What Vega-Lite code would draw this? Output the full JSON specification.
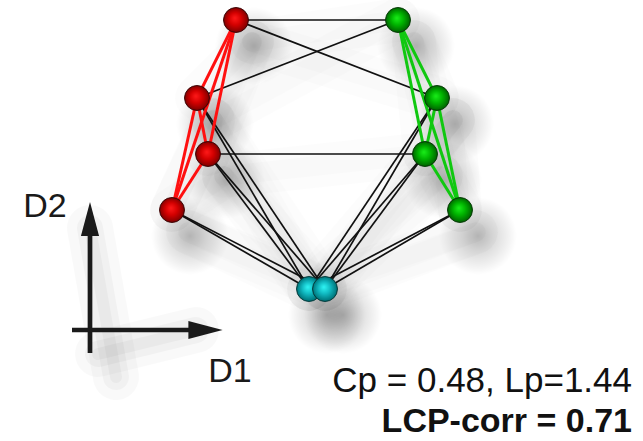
{
  "$schema": "https://vega.github.io/schema/vega-lite/v6.json",
  "width": 643,
  "height": 441,
  "autosize": {"type": "none"},
  "padding": 0,
  "background": "white",
  "config": {"view": {"stroke": null}},
  "datasets": {
    "nodes": [
      {"id": "R1", "group": "red", "x": 236, "y": 20},
      {"id": "R2", "group": "red", "x": 197, "y": 98},
      {"id": "R3", "group": "red", "x": 208, "y": 154},
      {"id": "R4", "group": "red", "x": 172, "y": 210},
      {"id": "G1", "group": "green", "x": 398, "y": 20},
      {"id": "G2", "group": "green", "x": 437, "y": 98},
      {"id": "G3", "group": "green", "x": 425, "y": 154},
      {"id": "G4", "group": "green", "x": 460, "y": 210},
      {"id": "C1", "group": "cyan", "x": 309, "y": 289},
      {"id": "C2", "group": "cyan", "x": 325, "y": 289}
    ],
    "edges": [
      {"s": "R1", "t": "R2", "kind": "red"},
      {"s": "R1", "t": "R3", "kind": "red"},
      {"s": "R1", "t": "R4", "kind": "red"},
      {"s": "R2", "t": "R3", "kind": "red"},
      {"s": "R2", "t": "R4", "kind": "red"},
      {"s": "R3", "t": "R4", "kind": "red"},
      {"s": "G1", "t": "G2", "kind": "green"},
      {"s": "G1", "t": "G3", "kind": "green"},
      {"s": "G1", "t": "G4", "kind": "green"},
      {"s": "G2", "t": "G3", "kind": "green"},
      {"s": "G2", "t": "G4", "kind": "green"},
      {"s": "G3", "t": "G4", "kind": "green"},
      {"s": "R1", "t": "G1", "kind": "black"},
      {"s": "R1", "t": "G2", "kind": "black"},
      {"s": "R2", "t": "G1", "kind": "black"},
      {"s": "R3", "t": "G3", "kind": "black"},
      {"s": "R2", "t": "C1", "kind": "black"},
      {"s": "R2", "t": "C2", "kind": "black"},
      {"s": "R3", "t": "C1", "kind": "black"},
      {"s": "R3", "t": "C2", "kind": "black"},
      {"s": "R4", "t": "C1", "kind": "black"},
      {"s": "R4", "t": "C2", "kind": "black"},
      {"s": "G2", "t": "C1", "kind": "black"},
      {"s": "G2", "t": "C2", "kind": "black"},
      {"s": "G3", "t": "C1", "kind": "black"},
      {"s": "G3", "t": "C2", "kind": "black"},
      {"s": "G4", "t": "C1", "kind": "black"},
      {"s": "G4", "t": "C2", "kind": "black"}
    ],
    "axisArrows": [
      {"dir": "D2", "x": 90, "y": 353, "x2": 90, "y2": 228},
      {"dir": "D1", "x": 72, "y": 330, "x2": 196, "y2": 330}
    ],
    "heads": [
      {"dir": "D2", "x": 90, "y": 219}
    ],
    "headsR": [
      {"dir": "D1", "x": 205.5, "y": 330}
    ],
    "axisLabels": [
      {"text": "D2", "x": 45, "y": 217},
      {"text": "D1", "x": 230, "y": 382}
    ],
    "stats": [
      {"text": "Cp = 0.48, Lp=1.44", "x": 632, "y": 392}
    ],
    "statsBold": [
      {"text": "LCP-corr = 0.71", "x": 632, "y": 432}
    ]
  },
  "layer": [
    {
      "data": {"name": "edges"},
      "transform": [
        {"lookup": "s", "from": {"data": {"name": "nodes"}, "key": "id", "fields": ["x", "y"]}, "as": ["sx", "sy"]},
        {"lookup": "t", "from": {"data": {"name": "nodes"}, "key": "id", "fields": ["x", "y"]}, "as": ["tx", "ty"]}
      ],
      "mark": {"type": "rule", "color": "#000", "opacity": 0.012, "strokeWidth": 44, "strokeCap": "round", "xOffset": 16, "yOffset": 22},
      "encoding": {
        "x": {"field": "sx", "type": "quantitative", "scale": {"domain": [0, 643], "nice": false, "zero": false}, "axis": null},
        "y": {"field": "sy", "type": "quantitative", "scale": {"domain": [0, 441], "nice": false, "zero": false, "reverse": true}, "axis": null},
        "x2": {"field": "tx"},
        "y2": {"field": "ty"}
      }
    },
    {
      "data": {"name": "edges"},
      "transform": [
        {"lookup": "s", "from": {"data": {"name": "nodes"}, "key": "id", "fields": ["x", "y"]}, "as": ["sx", "sy"]},
        {"lookup": "t", "from": {"data": {"name": "nodes"}, "key": "id", "fields": ["x", "y"]}, "as": ["tx", "ty"]}
      ],
      "mark": {"type": "rule", "color": "#000", "opacity": 0.01, "strokeWidth": 20, "strokeCap": "round", "xOffset": 16, "yOffset": 22},
      "encoding": {
        "x": {"field": "sx", "type": "quantitative"},
        "y": {"field": "sy", "type": "quantitative"},
        "x2": {"field": "tx"},
        "y2": {"field": "ty"}
      }
    },
    {
      "data": {"name": "nodes"},
      "mark": {"type": "circle", "opacity": 1, "size": 6000, "xOffset": 18, "yOffset": 26,
        "fill": {"gradient": "radial", "x1": 0.5, "y1": 0.5, "x2": 0.5, "y2": 0.5, "r1": 0, "r2": 0.5,
          "stops": [{"offset": 0, "color": "rgba(0,0,0,0.26)"}, {"offset": 0.4, "color": "rgba(0,0,0,0.14)"}, {"offset": 1, "color": "rgba(0,0,0,0)"}]}},
      "encoding": {
        "x": {"field": "x", "type": "quantitative"},
        "y": {"field": "y", "type": "quantitative"}
      }
    },
    {
      "data": {"name": "axisArrows"},
      "mark": {"type": "rule", "color": "#000", "opacity": 0.022, "strokeWidth": 46, "strokeCap": "round", "xOffset": 26, "yOffset": 24},
      "encoding": {
        "x": {"field": "x", "type": "quantitative"},
        "y": {"field": "y", "type": "quantitative"},
        "x2": {"field": "x2"},
        "y2": {"field": "y2"}
      }
    },
    {
      "data": {"name": "axisArrows"},
      "mark": {"type": "rule", "color": "#000", "opacity": 0.03, "strokeWidth": 26, "strokeCap": "round", "xOffset": 26, "yOffset": 24},
      "encoding": {
        "x": {"field": "x", "type": "quantitative"},
        "y": {"field": "y", "type": "quantitative"},
        "x2": {"field": "x2"},
        "y2": {"field": "y2"}
      }
    },
    {
      "data": {"name": "axisArrows"},
      "mark": {"type": "rule", "color": "#000", "opacity": 0.03, "strokeWidth": 12, "strokeCap": "round", "xOffset": 26, "yOffset": 24},
      "encoding": {
        "x": {"field": "x", "type": "quantitative"},
        "y": {"field": "y", "type": "quantitative"},
        "x2": {"field": "x2"},
        "y2": {"field": "y2"}
      }
    },
    {
      "data": {"name": "axisArrows"},
      "mark": {"type": "rule", "color": "#1a1a1a", "strokeWidth": 4.7},
      "encoding": {
        "x": {"field": "x", "type": "quantitative"},
        "y": {"field": "y", "type": "quantitative"},
        "x2": {"field": "x2"},
        "y2": {"field": "y2"}
      }
    },
    {
      "data": {"name": "heads"},
      "mark": {"type": "point", "shape": "M0,-1L0.53,1L-0.53,1Z", "filled": true, "color": "#1a1a1a", "opacity": 1, "size": 1170, "strokeWidth": 0},
      "encoding": {
        "x": {"field": "x", "type": "quantitative"},
        "y": {"field": "y", "type": "quantitative"}
      }
    },
    {
      "data": {"name": "headsR"},
      "mark": {"type": "point", "shape": "M1,0L-1,0.53L-1,-0.53Z", "filled": true, "color": "#1a1a1a", "opacity": 1, "size": 1170, "strokeWidth": 0},
      "encoding": {
        "x": {"field": "x", "type": "quantitative"},
        "y": {"field": "y", "type": "quantitative"}
      }
    },
    {
      "data": {"name": "axisLabels"},
      "mark": {"type": "text", "font": "Liberation Sans", "fontSize": 34, "color": "#1a1a1a", "align": "center", "baseline": "alphabetic"},
      "encoding": {
        "x": {"field": "x", "type": "quantitative"},
        "y": {"field": "y", "type": "quantitative"},
        "text": {"field": "text"}
      }
    },
    {
      "data": {"name": "edges"},
      "transform": [
        {"filter": "datum.kind === 'black'"},
        {"lookup": "s", "from": {"data": {"name": "nodes"}, "key": "id", "fields": ["x", "y"]}, "as": ["sx", "sy"]},
        {"lookup": "t", "from": {"data": {"name": "nodes"}, "key": "id", "fields": ["x", "y"]}, "as": ["tx", "ty"]}
      ],
      "mark": {"type": "rule", "color": "#111", "strokeWidth": 1.7},
      "encoding": {
        "x": {"field": "sx", "type": "quantitative"},
        "y": {"field": "sy", "type": "quantitative"},
        "x2": {"field": "tx"},
        "y2": {"field": "ty"}
      }
    },
    {
      "data": {"name": "edges"},
      "transform": [
        {"filter": "datum.kind === 'red'"},
        {"lookup": "s", "from": {"data": {"name": "nodes"}, "key": "id", "fields": ["x", "y"]}, "as": ["sx", "sy"]},
        {"lookup": "t", "from": {"data": {"name": "nodes"}, "key": "id", "fields": ["x", "y"]}, "as": ["tx", "ty"]}
      ],
      "mark": {"type": "rule", "color": "#ff1010", "strokeWidth": 3},
      "encoding": {
        "x": {"field": "sx", "type": "quantitative"},
        "y": {"field": "sy", "type": "quantitative"},
        "x2": {"field": "tx"},
        "y2": {"field": "ty"}
      }
    },
    {
      "data": {"name": "edges"},
      "transform": [
        {"filter": "datum.kind === 'green'"},
        {"lookup": "s", "from": {"data": {"name": "nodes"}, "key": "id", "fields": ["x", "y"]}, "as": ["sx", "sy"]},
        {"lookup": "t", "from": {"data": {"name": "nodes"}, "key": "id", "fields": ["x", "y"]}, "as": ["tx", "ty"]}
      ],
      "mark": {"type": "rule", "color": "#10c810", "strokeWidth": 3},
      "encoding": {
        "x": {"field": "sx", "type": "quantitative"},
        "y": {"field": "sy", "type": "quantitative"},
        "x2": {"field": "tx"},
        "y2": {"field": "ty"}
      }
    },
    {
      "data": {"name": "nodes"},
      "transform": [{"filter": "datum.group === 'red'"}],
      "mark": {"type": "circle", "size": 620, "opacity": 1, "stroke": "#3a0505", "strokeWidth": 1,
        "fill": {"gradient": "radial", "x1": 0.45, "y1": 0.42, "x2": 0.5, "y2": 0.5, "r1": 0, "r2": 0.55,
          "stops": [{"offset": 0, "color": "#ff1a1a"}, {"offset": 0.45, "color": "#d40000"}, {"offset": 0.85, "color": "#8a0000"}, {"offset": 1, "color": "#5a0000"}]}},
      "encoding": {
        "x": {"field": "x", "type": "quantitative"},
        "y": {"field": "y", "type": "quantitative"}
      }
    },
    {
      "data": {"name": "nodes"},
      "transform": [{"filter": "datum.group === 'green'"}],
      "mark": {"type": "circle", "size": 620, "opacity": 1, "stroke": "#053a05", "strokeWidth": 1,
        "fill": {"gradient": "radial", "x1": 0.45, "y1": 0.42, "x2": 0.5, "y2": 0.5, "r1": 0, "r2": 0.55,
          "stops": [{"offset": 0, "color": "#1aee1a"}, {"offset": 0.45, "color": "#00b400"}, {"offset": 0.85, "color": "#006e00"}, {"offset": 1, "color": "#004400"}]}},
      "encoding": {
        "x": {"field": "x", "type": "quantitative"},
        "y": {"field": "y", "type": "quantitative"}
      }
    },
    {
      "data": {"name": "nodes"},
      "transform": [{"filter": "datum.group === 'cyan'"}],
      "mark": {"type": "circle", "size": 620, "opacity": 1, "stroke": "#053a3a", "strokeWidth": 1,
        "fill": {"gradient": "radial", "x1": 0.45, "y1": 0.42, "x2": 0.5, "y2": 0.5, "r1": 0, "r2": 0.55,
          "stops": [{"offset": 0, "color": "#30f5f5"}, {"offset": 0.45, "color": "#10b8c0"}, {"offset": 0.85, "color": "#007a80"}, {"offset": 1, "color": "#004e52"}]}},
      "encoding": {
        "x": {"field": "x", "type": "quantitative"},
        "y": {"field": "y", "type": "quantitative"}
      }
    },
    {
      "data": {"name": "stats"},
      "mark": {"type": "text", "font": "Liberation Sans", "fontSize": 35, "color": "#111", "align": "right", "baseline": "alphabetic"},
      "encoding": {
        "x": {"field": "x", "type": "quantitative"},
        "y": {"field": "y", "type": "quantitative"},
        "text": {"field": "text"}
      }
    },
    {
      "data": {"name": "statsBold"},
      "mark": {"type": "text", "font": "Liberation Sans", "fontSize": 34, "fontWeight": "bold", "color": "#111", "align": "right", "baseline": "alphabetic"},
      "encoding": {
        "x": {"field": "x", "type": "quantitative"},
        "y": {"field": "y", "type": "quantitative"},
        "text": {"field": "text"}
      }
    }
  ]
}
